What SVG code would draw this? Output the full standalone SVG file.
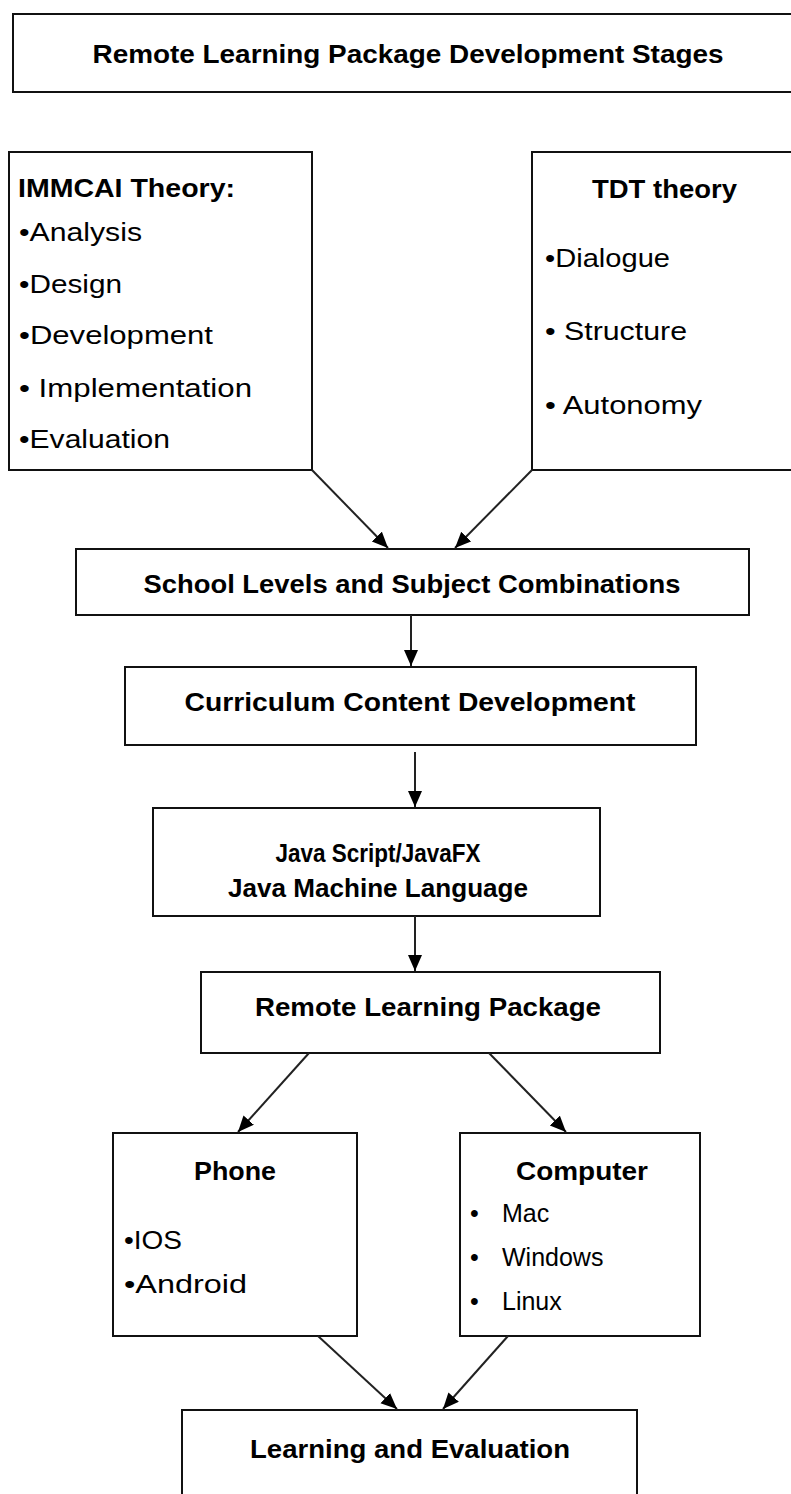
<svg xmlns="http://www.w3.org/2000/svg" width="791" height="1494" viewBox="0 0 791 1494">
<style>
.box{fill:#fff;stroke:#111;stroke-width:2}
.h{font-family:"Liberation Sans",Arial,sans-serif;font-weight:bold;font-size:26px;fill:#000}
.t{font-family:"Liberation Sans",Arial,sans-serif;font-size:25px;fill:#000}
.c{stroke:#222;stroke-width:2;fill:none;marker-end:url(#ah)}
</style>
<defs>
<marker id="ah" markerUnits="userSpaceOnUse" markerWidth="18" markerHeight="16" refX="16" refY="7" orient="auto">
<path d="M0,0 L16,7 L0,14 z" fill="#000"/>
</marker>
</defs>
<rect width="791" height="1494" fill="#fff"/>
<g id="title">
<rect class="box" x="13" y="14" width="790" height="78"/>
<text class="h" x="408" y="63" text-anchor="middle" textLength="631" lengthAdjust="spacingAndGlyphs">Remote Learning Package Development Stages</text>
</g>
<g id="immcai">
<rect class="box" x="9" y="152" width="303" height="318"/>
<text class="h" x="18" y="197" font-size="27" textLength="217" lengthAdjust="spacingAndGlyphs">IMMCAI Theory:</text>
<text class="t" x="19" y="241" textLength="123" lengthAdjust="spacingAndGlyphs">•Analysis</text>
<text class="t" x="19" y="293" textLength="103" lengthAdjust="spacingAndGlyphs">•Design</text>
<text class="t" x="19" y="344" textLength="194" lengthAdjust="spacingAndGlyphs">•Development</text>
<text class="t" x="19" y="397" textLength="233" lengthAdjust="spacingAndGlyphs">• Implementation</text>
<text class="t" x="19" y="448" textLength="151" lengthAdjust="spacingAndGlyphs">•Evaluation</text>
</g>
<g id="tdt">
<rect class="box" x="532" y="152" width="270" height="318"/>
<text class="h" x="592" y="198" font-size="27" textLength="145" lengthAdjust="spacingAndGlyphs">TDT theory</text>
<text class="t" x="545" y="267" textLength="125" lengthAdjust="spacingAndGlyphs">•Dialogue</text>
<text class="t" x="545" y="340" textLength="142" lengthAdjust="spacingAndGlyphs">• Structure</text>
<text class="t" x="545" y="414" textLength="157" lengthAdjust="spacingAndGlyphs">• Autonomy</text>
</g>
<g id="school">
<rect class="box" x="76" y="549" width="673" height="66"/>
<text class="h" x="412" y="593" text-anchor="middle" textLength="537" lengthAdjust="spacingAndGlyphs">School Levels and Subject Combinations</text>
</g>
<g id="curriculum">
<rect class="box" x="125" y="667" width="571" height="78"/>
<text class="h" x="410" y="711" text-anchor="middle" textLength="451" lengthAdjust="spacingAndGlyphs">Curriculum Content Development</text>
</g>
<g id="java">
<rect class="box" x="153" y="808" width="447" height="108"/>
<text class="h" x="378" y="862" text-anchor="middle" textLength="205" lengthAdjust="spacingAndGlyphs">Java Script/JavaFX</text>
<text class="h" x="378" y="897" text-anchor="middle" textLength="300" lengthAdjust="spacingAndGlyphs">Java Machine Language</text>
</g>
<g id="package">
<rect class="box" x="201" y="972" width="459" height="81"/>
<text class="h" x="428" y="1016" text-anchor="middle" textLength="346" lengthAdjust="spacingAndGlyphs">Remote Learning Package</text>
</g>
<g id="phone">
<rect class="box" x="113" y="1133" width="244" height="203"/>
<text class="h" x="235" y="1180" text-anchor="middle" textLength="82" lengthAdjust="spacingAndGlyphs">Phone</text>
<text class="t" x="124" y="1249" textLength="58" lengthAdjust="spacingAndGlyphs">•IOS</text>
<text class="t" x="124" y="1293" textLength="123" lengthAdjust="spacingAndGlyphs">•Android</text>
</g>
<g id="computer">
<rect class="box" x="460" y="1133" width="240" height="203"/>
<text class="h" x="582" y="1180" text-anchor="middle" textLength="132" lengthAdjust="spacingAndGlyphs">Computer</text>
<text class="t" y="1222"><tspan x="470">•</tspan><tspan x="502">Mac</tspan></text>
<text class="t" y="1266"><tspan x="470">•</tspan><tspan x="502">Windows</tspan></text>
<text class="t" y="1310"><tspan x="470">•</tspan><tspan x="502">Linux</tspan></text>
</g>
<g id="learning">
<rect class="box" x="182" y="1410" width="455" height="100"/>
<text class="h" x="410" y="1458" text-anchor="middle" textLength="320" lengthAdjust="spacingAndGlyphs">Learning and Evaluation</text>
</g>
<g id="connectors">
<line class="c" x1="312" y1="470" x2="388" y2="548"/>
<line class="c" x1="532" y1="470" x2="455" y2="548"/>
<line class="c" x1="411" y1="615" x2="411" y2="666"/>
<line class="c" x1="415" y1="752" x2="415" y2="807"/>
<line class="c" x1="415" y1="916" x2="415" y2="971"/>
<line class="c" x1="309" y1="1053" x2="238" y2="1132"/>
<line class="c" x1="489" y1="1053" x2="566" y2="1132"/>
<line class="c" x1="318" y1="1336" x2="397" y2="1409"/>
<line class="c" x1="508" y1="1336" x2="443" y2="1409"/>
</g>
</svg>
